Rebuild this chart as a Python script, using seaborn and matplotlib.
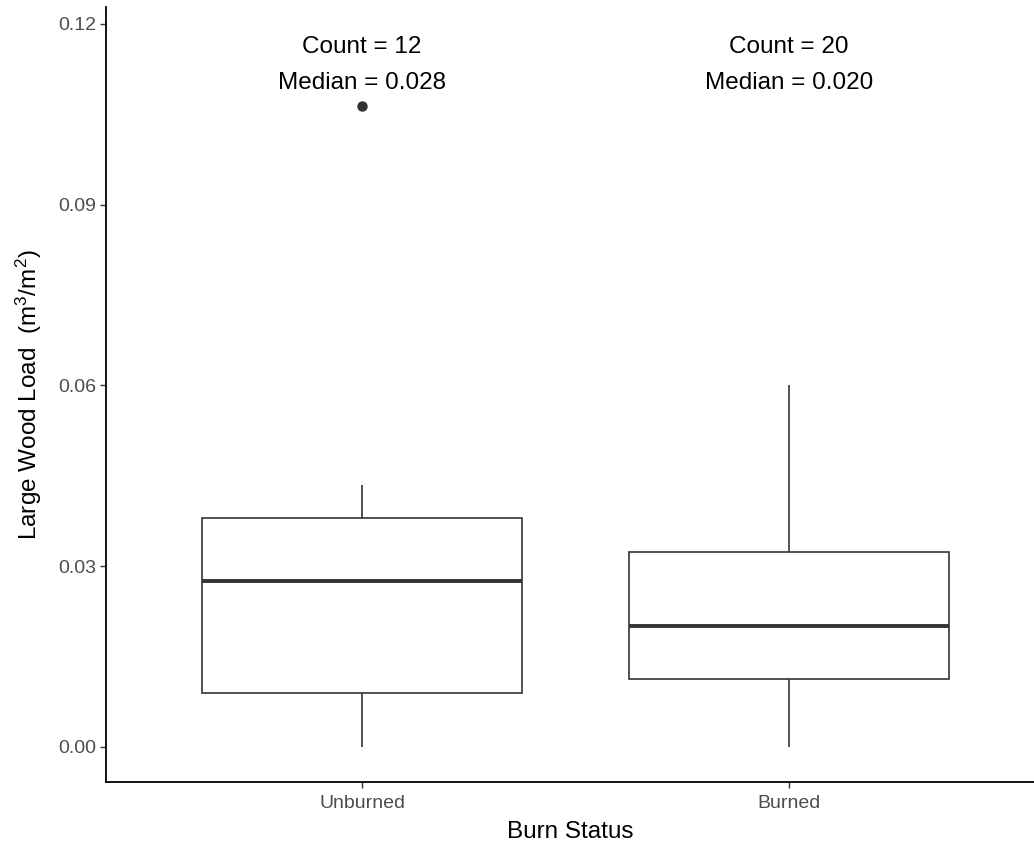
"""
Large wood load by burn status - boxplot
"""

import numpy as np
import pandas as pd
import matplotlib
matplotlib.use("Agg")
import matplotlib.pyplot as plt
import seaborn as sns

# Data (individual site values estimated from the figure)
categories = ['Unburned', 'Burned']
unburned_load = [0.0, 0.004, 0.0085, 0.00917, 0.018, 0.0262,
                 0.029, 0.034, 0.0375, 0.0395, 0.0435, 0.1064]
burned_load = [0.0, 0.003, 0.006, 0.009, 0.011, 0.0114, 0.013, 0.015,
               0.017, 0.0195, 0.0205, 0.023, 0.026, 0.029, 0.032,
               0.0336, 0.037, 0.043, 0.051, 0.060]
y_ticks = [0.00, 0.03, 0.06, 0.09, 0.12]

df = pd.DataFrame({
    'status': ['Unburned'] * len(unburned_load) + ['Burned'] * len(burned_load),
    'load': unburned_load + burned_load,
})

sns.set_style('white')
plt.rcParams['font.family'] = ['Liberation Sans', 'DejaVu Sans']
plt.rcParams['mathtext.fontset'] = 'custom'
plt.rcParams['mathtext.rm'] = 'Liberation Sans'
plt.rcParams['mathtext.it'] = 'Liberation Sans:italic'

fig = plt.figure(figsize=(10.34, 8.42), dpi=100)
ax = fig.add_axes([0.1025, 0.0712, 0.8975, 0.9205])

line_col = '#333333'
sns.boxplot(data=df, x='status', y='load', order=categories, ax=ax,
            width=0.75, color='white', saturation=1, linecolor=line_col,
            linewidth=1.2, whis=1.5, showcaps=False,
            medianprops={'linewidth': 2.8, 'color': line_col},
            flierprops={'marker': 'o', 'markerfacecolor': line_col,
                        'markeredgecolor': line_col, 'markersize': 6.5})

# Count / median annotations above each box
for i, vals in enumerate([unburned_load, burned_load]):
    ax.text(i, 0.1162, f'Count = {len(vals)}', ha='center', va='center',
            fontsize=17.5, color='black')
    ax.text(i, 0.1102, f'Median = {np.median(vals):.3f}', ha='center',
            va='center', fontsize=17.5, color='black')

ax.set_xlim(-0.6, 1.574)
ax.set_ylim(-0.00585, 0.1228)
ax.set_yticks(y_ticks)
ax.set_yticklabels([f'{t:.2f}' for t in y_ticks])

ax.set_xlabel('Burn Status', fontsize=17.5, color='black', labelpad=6)
ax.set_ylabel('Large Wood Load  (m$^3$/m$^2$)', fontsize=17.5,
              color='black', labelpad=10)

for side in ['top', 'right']:
    ax.spines[side].set_visible(False)
for side in ['left', 'bottom']:
    ax.spines[side].set_color('black')
    ax.spines[side].set_linewidth(1.3)

ax.tick_params(axis='both', which='major', length=4, width=1,
               color=line_col, labelcolor='#4d4d4d', labelsize=14,
               left=True, bottom=True, pad=3)
ax.tick_params(axis='x', pad=5.5)
ax.grid(False)

fig.savefig('out.png', dpi=100)
